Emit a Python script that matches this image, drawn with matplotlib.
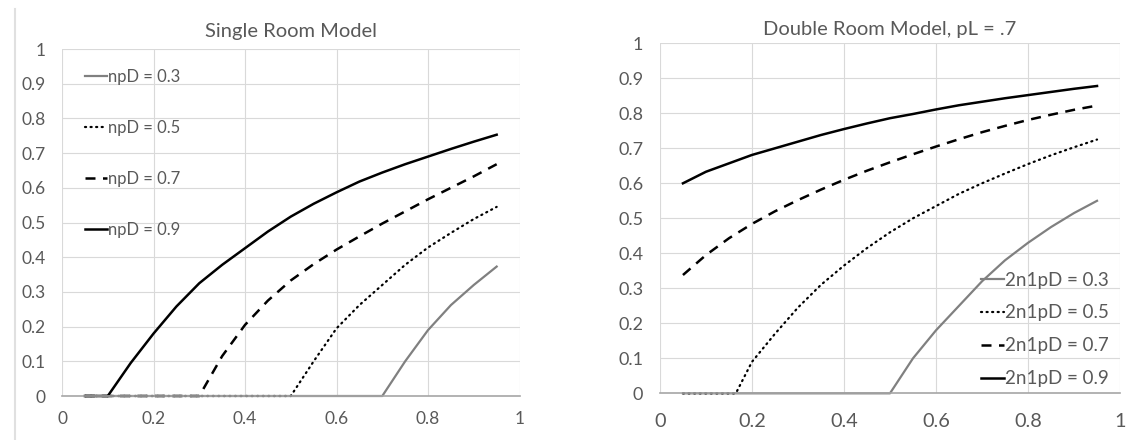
import matplotlib.pyplot as plt
from matplotlib.lines import Line2D

plt.rcParams['font.family'] = ['Lato', 'DejaVu Sans']

TEXT = '#595959'
GRID = '#d9d9d9'

x = [0.05, 0.1, 0.15, 0.2, 0.25, 0.3, 0.35, 0.4, 0.45, 0.5,
     0.55, 0.6, 0.65, 0.7, 0.75, 0.8, 0.85, 0.9, 0.95]

# Single room model
single_03 = [0, 0, 0, 0, 0, 0, 0, 0, 0, 0, 0, 0, 0, 0, 0.10, 0.19, 0.262, 0.32, 0.373]
single_05 = [0, 0, 0, 0, 0, 0, 0, 0, 0, 0, 0.10, 0.195, 0.262, 0.32, 0.378, 0.428, 0.47, 0.51, 0.545]
single_07 = [0, 0, 0, 0, 0, 0, 0.115, 0.205, 0.275, 0.333, 0.38, 0.422, 0.46, 0.497, 0.532,
             0.567, 0.6, 0.633, 0.668]
single_09 = [0, 0, 0.095, 0.18, 0.258, 0.325, 0.378, 0.426, 0.474, 0.517, 0.554, 0.587,
             0.618, 0.644, 0.668, 0.69, 0.712, 0.733, 0.753]

# Double room model, pL = .7
x_dbl_05 = [0.05, 0.1, 0.15, 0.165, 0.2, 0.25, 0.3, 0.35, 0.4, 0.45, 0.5,
            0.55, 0.6, 0.65, 0.7, 0.75, 0.8, 0.85, 0.9, 0.95]
double_03 = [0, 0, 0, 0, 0, 0, 0, 0, 0, 0, 0.10, 0.18, 0.25, 0.32, 0.38, 0.43, 0.475, 0.515, 0.55]
double_05 = [0, 0, 0, 0, 0.09, 0.17, 0.245, 0.31, 0.365, 0.415, 0.46, 0.50, 0.535, 0.57,
             0.60, 0.628, 0.655, 0.68, 0.703, 0.725]
double_07 = [0.338, 0.395, 0.443, 0.484, 0.52, 0.552, 0.582, 0.61, 0.636, 0.66, 0.683,
             0.705, 0.726, 0.746, 0.764, 0.781, 0.796, 0.81, 0.822]
double_09 = [0.60, 0.633, 0.657, 0.681, 0.70, 0.719, 0.738, 0.755, 0.771, 0.786, 0.798,
             0.811, 0.823, 0.833, 0.843, 0.852, 0.861, 0.87, 0.878]

ticks = [0, 0.2, 0.4, 0.6, 0.8, 1]
tick_labels = ['0', '0.2', '0.4', '0.6', '0.8', '1']
yticks = [0, 0.1, 0.2, 0.3, 0.4, 0.5, 0.6, 0.7, 0.8, 0.9, 1]
ytick_labels = ['0', '0.1', '0.2', '0.3', '0.4', '0.5', '0.6', '0.7', '0.8', '0.9', '1']

styles = [
    dict(color='#808080', lw=1.6, ls='-'),
    dict(color='black', lw=1.6, ls=(0, (0.5, 2.0)), dash_capstyle='round'),
    dict(color='black', lw=1.8, ls=(0, (4, 3))),
    dict(color='black', lw=1.8, ls='-'),
]

fig = plt.figure(figsize=(11.26, 4.4), dpi=100)
ax1 = fig.add_axes([0.0551, 0.100, 0.4063, 0.7886])
ax2 = fig.add_axes([0.5861, 0.1061, 0.4086, 0.7955])


def setup(ax, xsize, ysize, xpad):
    ax.set_xlim(0, 1)
    ax.set_ylim(0, 1)
    ax.set_xticks(ticks)
    ax.set_xticklabels(tick_labels)
    ax.set_yticks(yticks)
    ax.set_yticklabels(ytick_labels)
    ax.grid(True, color=GRID, lw=0.8)
    ax.set_axisbelow(True)
    for s in ['top', 'right', 'left']:
        ax.spines[s].set_visible(False)
    ax.spines['bottom'].set_color('#a6a6a6')
    ax.spines['bottom'].set_linewidth(1.2)
    ax.tick_params(length=0, colors=TEXT)
    ax.tick_params(axis='x', labelsize=xsize, pad=xpad)
    ax.tick_params(axis='y', labelsize=ysize, pad=12)


setup(ax1, 12.5, 12.5, 11)
setup(ax2, 14.3, 13, 14)

labels1 = ['npD = 0.3', 'npD = 0.5', 'npD = 0.7', 'npD = 0.9']
for ys, lab, st in zip([single_03, single_05, single_07, single_09], labels1, styles):
    ax1.plot(x, ys, label=lab, clip_on=False, **st)

labels2 = ['2n1pD = 0.3', '2n1pD = 0.5', '2n1pD = 0.7', '2n1pD = 0.9']
xs2 = [x, x_dbl_05, x, x]
for xx, ys, lab, st in zip(xs2, [double_03, double_05, double_07, double_09], labels2, styles):
    ax2.plot(xx, ys, label=lab, clip_on=False, **st)

ax1.set_title('Single Room Model', fontsize=14.5, color=TEXT, pad=9)
ax2.set_title('Double Room Model, pL = .7', fontsize=14.5, color=TEXT, pad=6)

leg1 = ax1.legend(loc='upper left', bbox_to_anchor=(0.05, 0.943), frameon=False,
                  fontsize=12, labelspacing=2.1, handlelength=1.3, handletextpad=0.1,
                  borderpad=0, borderaxespad=0)
leg2 = ax2.legend(loc='lower right', bbox_to_anchor=(0.975, 0.017), frameon=False,
                  fontsize=13.5, labelspacing=0.85, handlelength=1.2, handletextpad=0.05,
                  borderpad=0, borderaxespad=0)
for leg in (leg1, leg2):
    for t in leg.get_texts():
        t.set_color(TEXT)

fig.add_artist(Line2D([15 / 1126, 15 / 1126], [0, 0.98], color='#e0e0e0', lw=1.5))

fig.savefig('out.png', dpi=100)
